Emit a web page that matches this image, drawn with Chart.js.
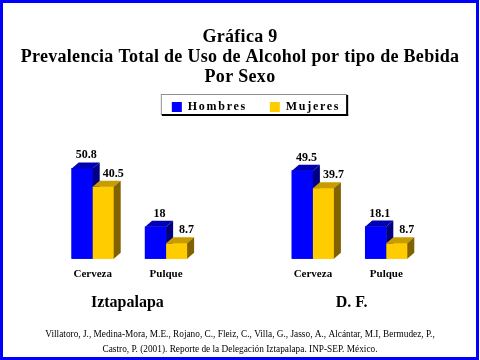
<!DOCTYPE html>
<html>
<head>
<meta charset="utf-8">
<script src="https://cdn.jsdelivr.net/npm/chart.js@4.4.1/dist/chart.umd.min.js"></script>
<style>
  html, body { margin: 0; padding: 0; background: #fff; }
  #wrap { position: relative; width: 480px; height: 360px; }
  #marco { position: absolute; left: 0; top: 0; width: 479px; height: 360px; box-sizing: border-box; border: 3px solid #0000ff; pointer-events: none; }
</style>
</head>
<body>
<div id="wrap">
  <canvas id="grafica" width="480" height="360"></canvas>
  <div id="marco"></div>
</div>
<script>
const categorias = ["Cerveza", "Pulque", "", "Cerveza", "Pulque"];
const hombres = [50.8, 18, null, 49.5, 18.1];
const mujeres = [40.5, 8.7, null, 39.7, 8.7];
const regiones = ["Iztapalapa", "D. F."];
const titulo = ["Gráfica 9", "Prevalencia Total de Uso de Alcohol por tipo de Bebida", "Por Sexo"];
const fuente = [
    "Villatoro, J., Medina-Mora, M.E., Rojano, C., Fleiz, C., Villa, G., Jasso, A., Alcántar, M.I, Bermudez, P.,",
    "Castro, P. (2001). Reporte de la Delegación Iztapalapa. INP-SEP. México."
];

const SERIF = '"Liberation Serif", "Times New Roman", serif';
const FONDO = 7, ALTO = 6; // profundidad del efecto 3D
const caras = [
    { frente: "#0000ff", tapa: "#0000b4", lado: "#000080", dx: 4 },
    { frente: "#ffcc00", tapa: "#c89b00", lado: "#806200", dx: 10 }
];

// barras con tapa y lado, y el valor encima
const barras3d = {
    id: "barras3d",
    afterDatasetsDraw(chart) {
        const ctx = chart.ctx;
        chart.data.datasets.forEach((ds, i) => {
            const c = caras[i];
            chart.getDatasetMeta(i).data.forEach((bar, j) => {
                if (ds.data[j] == null) return;
                const { x, y, base, width } = bar.getProps(["x", "y", "base", "width"], true);
                const l = x - width / 2, r = x + width / 2;
                ctx.fillStyle = c.frente;
                ctx.fillRect(l, y, width, base - y);
                ctx.fillStyle = c.tapa;
                ctx.beginPath();
                ctx.moveTo(l, y); ctx.lineTo(l + FONDO, y - ALTO);
                ctx.lineTo(r + FONDO, y - ALTO); ctx.lineTo(r, y);
                ctx.fill();
                ctx.fillStyle = c.lado;
                ctx.beginPath();
                ctx.moveTo(r, y); ctx.lineTo(r + FONDO, y - ALTO);
                ctx.lineTo(r + FONDO, base - ALTO); ctx.lineTo(r, base);
                ctx.fill();
                ctx.fillStyle = "#000";
                ctx.font = "bold 12px " + SERIF;
                ctx.textAlign = "center";
                ctx.textBaseline = "middle";
                ctx.fillText(String(ds.data[j]), x + c.dx, y - 13);
            });
        });
    },
    afterDraw(chart) {
        const ctx = chart.ctx;
        // recuadro de la leyenda
        const hb = chart.legend.legendHitBoxes;
        if (hb.length) {
            const cy = hb[0].top + hb[0].height / 2;
            const l = hb[0].left - 11, r = hb[hb.length - 1].left + hb[hb.length - 1].width + 6;
            const t = cy - 13, b = cy + 7;
            ctx.strokeStyle = "#909090";
            ctx.lineWidth = 1;
            ctx.strokeRect(l + 0.5, t + 0.5, r - l, b - t);
            ctx.fillStyle = "#000";
            ctx.fillRect(l + 1, b, r - l + 1, 2);
            ctx.fillRect(r, t + 1, 2, b - t + 1);
        }
        // nombre de cada zona
        const xs = chart.scales.x;
        ctx.fillStyle = "#000";
        ctx.font = "bold 16px " + SERIF;
        ctx.textAlign = "center";
        ctx.textBaseline = "middle";
        ctx.fillText(regiones[0], (xs.getPixelForValue(0) + xs.getPixelForValue(1)) / 2 - 2, 303);
        ctx.fillText(regiones[1], (xs.getPixelForValue(3) + xs.getPixelForValue(4)) / 2 + 2, 303);
    }
};

// texto espaciado en título, leyenda y categorías
const espaciado = {
    id: "espaciado",
    beforeLayout(chart) { chart.ctx.letterSpacing = "1.7px"; },
    afterLayout(chart) {
        chart.ctx.letterSpacing = "0px";
        chart.legend.left += 16;
        chart.legend.right += 16;
        chart.legend.top -= 13;
        chart.legend.bottom -= 13;
        [[chart.legend, "1.7px"], [chart.scales.x, "0.8px"], [chart.titleBlock, "0.3px"]].forEach(([box, sp]) => {
            if (box._espaciado) return;
            box._espaciado = true;
            const draw = box.draw;
            box.draw = function (...args) {
                this.ctx.letterSpacing = sp;
                draw.apply(this, args);
                this.ctx.letterSpacing = "0px";
            };
        });
    }
};

// ejes laterales vacíos que sólo reservan el margen
const margen = (w) => ({
    display: true,
    ticks: { display: false },
    grid: { display: false },
    border: { display: false },
    afterFit(scale) { scale.width = w; }
});

new Chart(document.getElementById("grafica"), {
    type: "bar",
    data: {
        labels: categorias,
        datasets: [
            { label: "Hombres", data: hombres, backgroundColor: caras[0].frente, borderWidth: 0, barThickness: 21 },
            { label: "Mujeres", data: mujeres, backgroundColor: caras[1].frente, borderWidth: 0, barThickness: 21 }
        ]
    },
    options: {
        responsive: false,
        animation: false,
        layout: { padding: { left: 0, right: 0, top: 17, bottom: 0 } },
        plugins: {
            title: {
                display: true,
                text: titulo,
                color: "#000",
                font: { family: SERIF, size: 18, weight: "bold", lineHeight: 20 / 18 },
                padding: { top: 10, bottom: 4 }
            },
            legend: {
                labels: {
                    boxWidth: 10,
                    boxHeight: 10,
                    padding: 23,
                    color: "#000",
                    font: { family: SERIF, size: 12, weight: "bold" }
                }
            },
            subtitle: {
                display: true,
                position: "bottom",
                text: fuente,
                color: "#000",
                font: { family: SERIF, size: 9.3, lineHeight: 15 / 9.3 },
                padding: { top: 37, bottom: 3 }
            },
            tooltip: { enabled: false }
        },
        scales: {
            x: {
                grid: { display: false, drawTicks: false },
                border: { display: false },
                ticks: { color: "#000", autoSkip: false, maxRotation: 0, padding: 9, font: { family: SERIF, size: 11, weight: "bold" } }
            },
            y: Object.assign(margen(56), { min: 0, max: 69 }),
            derecha: Object.assign(margen(57), { position: "right" })
        }
    },
    plugins: [barras3d, espaciado]
});
</script>
</body>
</html>
